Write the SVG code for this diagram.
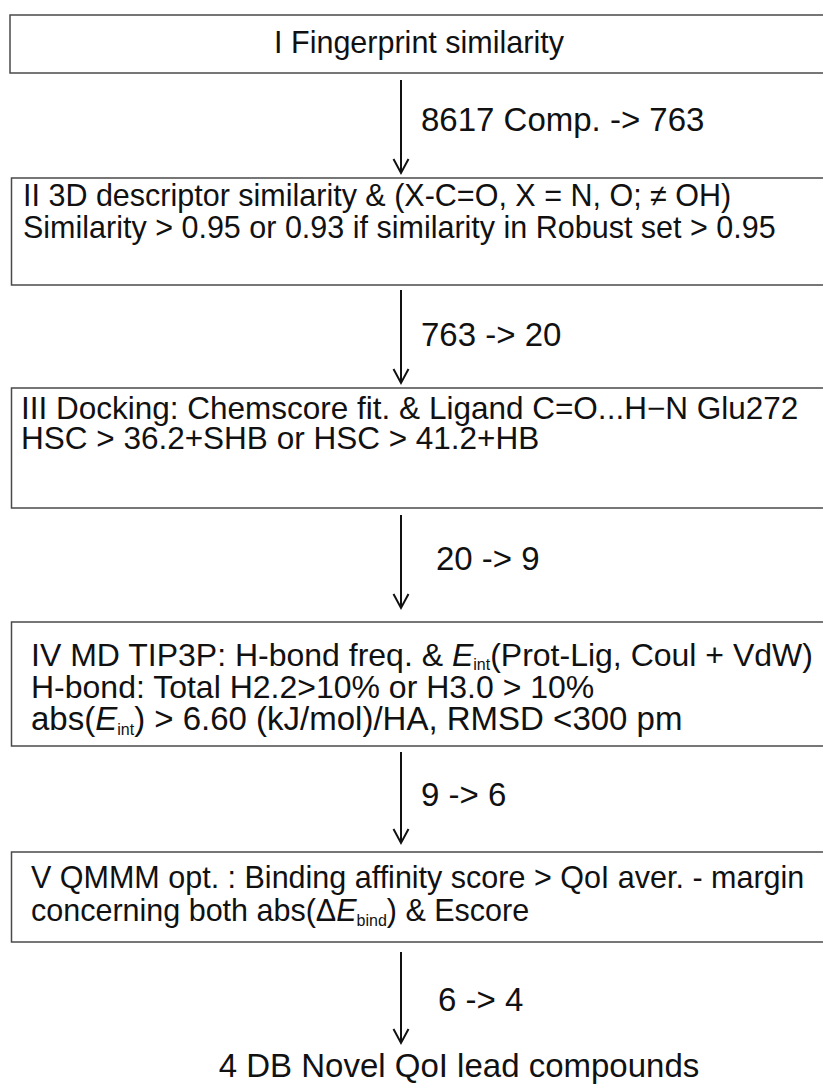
<svg xmlns="http://www.w3.org/2000/svg" width="823" height="1089" viewBox="0 0 823 1089">
<style>
  .box { fill: #ffffff; stroke: #4a4a4a; stroke-width: 1.5; }
  .t { font-family: "Liberation Sans", Arial, sans-serif; font-size: 30.5px; fill: #111; }
  .t3 { font-size: 31.5px; }
  .t4 { font-size: 32px; }
  .lbl { font-family: "Liberation Sans", Arial, sans-serif; font-size: 33px; fill: #111; }
  .big { font-size: 33px; }
  .sub { font-size: 16px; }
  .conn { stroke: #111; stroke-width: 2; fill: none; }
  .head { stroke: #111; stroke-width: 2; fill: none; stroke-linejoin: miter; }
</style>
<rect width="823" height="1089" fill="#ffffff"/>

<g id="node1">
  <rect class="box" x="10" y="15" width="830" height="58"/>
  <text class="t" x="419" y="53" text-anchor="middle">I Fingerprint similarity</text>
</g>

<g id="node2">
  <rect class="box" x="11.5" y="178" width="830" height="107"/>
  <text class="t" x="23" y="206">II 3D descriptor similarity &amp; (X-C=O, X = N, O; ≠ OH)</text>
  <text class="t" x="23" y="238">Similarity &gt; 0.95 or 0.93 if similarity in Robust set &gt; 0.95</text>
</g>

<g id="node3">
  <rect class="box" x="11.5" y="388" width="830" height="120"/>
  <text class="t t3" x="21" y="419">III Docking: Chemscore fit. &amp; Ligand C=O...H−N Glu272</text>
  <text class="t t3" x="21" y="449">HSC &gt; 36.2+SHB or HSC &gt; 41.2+HB</text>
</g>

<g id="node4">
  <rect class="box" x="11.5" y="622" width="830" height="124"/>
  <text class="t t4" x="31" y="666">IV MD TIP3P: H-bond freq. &amp; <tspan font-style="italic">E</tspan><tspan class="sub" dy="4">int</tspan><tspan dy="-4">(Prot-Lig, Coul + VdW)</tspan></text>
  <text class="t t4" x="31" y="698">H-bond: Total H2.2&gt;10% or H3.0 &gt; 10%</text>
  <text class="t big" x="31" y="730">abs(<tspan font-style="italic">E</tspan><tspan class="sub" dy="5">int</tspan><tspan dy="-5">) &gt; 6.60 (kJ/mol)/HA, RMSD &lt;300 pm</tspan></text>
</g>

<g id="node5">
  <rect class="box" x="11.5" y="852" width="830" height="90"/>
  <text class="t" x="31" y="888">V QMMM opt. : Binding affinity score &gt; QoI aver. - margin</text>
  <text class="t" x="31" y="921">concerning both abs(Δ<tspan font-style="italic">E</tspan><tspan class="sub" dy="5">bind</tspan><tspan dy="-5">) &amp; Escore</tspan></text>
</g>

<g id="node6">
  <text class="lbl" x="459" y="1077" text-anchor="middle" font-size="33.5">4 DB Novel QoI lead compounds</text>
</g>

<g id="connectors">
  <line class="conn" x1="401" y1="80" x2="401" y2="172"/>
  <path class="head" d="M393.5,159 L401,173 L408.5,159"/>
  <line class="conn" x1="401" y1="290" x2="401" y2="382"/>
  <path class="head" d="M393.5,369 L401,383 L408.5,369"/>
  <line class="conn" x1="401" y1="515" x2="401" y2="607"/>
  <path class="head" d="M393.5,594 L401,608 L408.5,594"/>
  <line class="conn" x1="401" y1="752" x2="401" y2="842"/>
  <path class="head" d="M393.5,829 L401,843 L408.5,829"/>
  <line class="conn" x1="401" y1="952" x2="401" y2="1042"/>
  <path class="head" d="M393.5,1029 L401,1043 L408.5,1029"/>
  <text class="lbl" x="421" y="131">8617 Comp. -&gt; 763</text>
  <text class="lbl" x="421" y="346">763 -&gt; 20</text>
  <text class="lbl" x="436" y="570">20 -&gt; 9</text>
  <text class="lbl" x="421" y="806">9 -&gt; 6</text>
  <text class="lbl" x="438" y="1011">6 -&gt; 4</text>
</g>
</svg>
